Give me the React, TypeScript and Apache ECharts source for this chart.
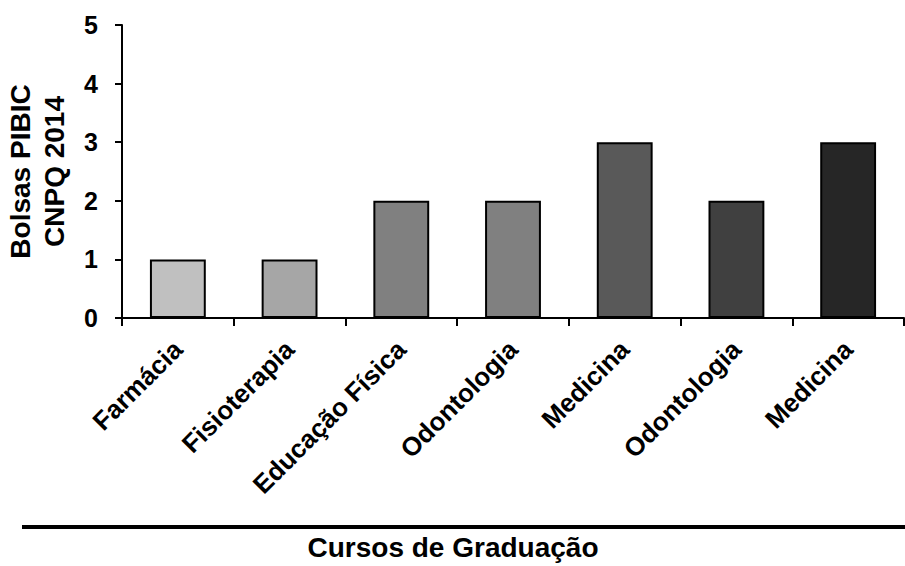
import React, { useEffect, useRef } from "react";
import * as echarts from "echarts";

const categories = [
  "Farmácia",
  "Fisioterapia",
  "Educação Física",
  "Odontologia",
  "Medicina",
  "Odontologia",
  "Medicina",
];
const values = [1, 1, 2, 2, 3, 2, 3];
const barColors = ["#c0c0c0", "#a6a6a6", "#808080", "#808080", "#595959", "#404040", "#262626"];
const yTicks = [0, 1, 2, 3, 4, 5];
const yAxisName = "Bolsas PIBIC\nCNPQ 2014";
const xAxisTitle = "Cursos de Graduação";

const FONT = "'Liberation Sans', Arial, sans-serif";

export default function App() {
  const ref = useRef<HTMLDivElement>(null);
  useEffect(() => {
    if (!ref.current) return;
    const chart = echarts.init(ref.current, null, { renderer: "svg" });
    chart.setOption({
      animation: false,
      backgroundColor: "#ffffff",
      grid: {
        left: 122,
        right: 1,
        top: 25,
        bottom: 248,
        containLabel: false,
        outerBoundsMode: "none",
      },
      xAxis: {
        type: "category",
        data: categories,
        axisLine: { lineStyle: { color: "#000", width: 2 } },
        axisTick: { show: true, alignWithLabel: false, length: 8, lineStyle: { color: "#000", width: 2 } },
        axisLabel: {
          rotate: 45,
          interval: 0,
          margin: 27,
          color: "#000",
          fontFamily: FONT,
          fontWeight: "bold",
          fontSize: 26,
        },
      },
      yAxis: {
        type: "value",
        min: yTicks[0],
        max: yTicks[yTicks.length - 1],
        interval: 1,
        name: yAxisName,
        nameLocation: "middle",
        nameRotate: 90,
        nameGap: 51,
        nameTextStyle: {
          color: "#000",
          fontFamily: FONT,
          fontWeight: "bold",
          fontSize: 28,
          lineHeight: 34,
        },
        splitLine: { show: false },
        axisLine: { show: true, lineStyle: { color: "#000", width: 2 } },
        axisTick: { show: true, length: 7, lineStyle: { color: "#000", width: 2 } },
        axisLabel: {
          margin: 24,
          color: "#000",
          fontFamily: FONT,
          fontWeight: "bold",
          fontSize: 25,
        },
      },
      series: [
        {
          type: "bar",
          data: values.map((v, i) => ({
            value: v,
            itemStyle: { color: barColors[i], borderColor: "#000", borderWidth: 2 },
          })),
          barWidth: "50%",
        },
      ],
      graphic: [
        {
          type: "line",
          shape: { x1: 22, y1: 527, x2: 905, y2: 527 },
          style: { stroke: "#000", lineWidth: 4 },
        },
        {
          type: "text",
          x: 453,
          y: 547,
          style: {
            text: xAxisTitle,
            fill: "#000",
            font: `bold 28px ${FONT}`,
            align: "center",
            verticalAlign: "middle",
          },
        },
      ],
    });
    return () => chart.dispose();
  }, []);
  return <div ref={ref} style={{ width: 905, height: 566, position: "absolute", left: 0, top: 0 }} />;
}
